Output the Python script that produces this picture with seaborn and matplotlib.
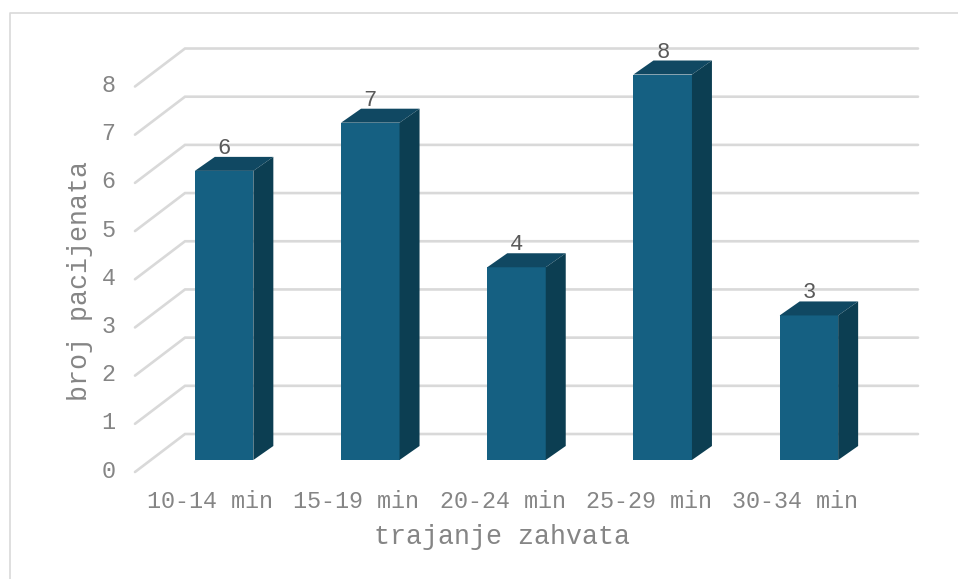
import pandas as pd
import seaborn as sns
import matplotlib.pyplot as plt
from matplotlib.lines import Line2D
from matplotlib.patches import Polygon
from matplotlib.transforms import ScaledTranslation

# values
durations = ['10-14 min', '15-19 min', '20-24 min', '25-29 min', '30-34 min']
patients = [6, 7, 4, 8, 3]
y_ticks = [0, 1, 2, 3, 4, 5, 6, 7, 8]

# colours
front_col = '#156082'
top_col = '#104862'
side_col = '#0c3e52'
grid_col = '#d9d9d9'
text_col = '#858585'

W, H = 958, 579

sns.set_theme(style='white')
plt.rcParams['font.family'] = ['Liberation Mono', 'DejaVu Sans']

fig = plt.figure(figsize=(W / 100, H / 100), dpi=100)
# plot area = front plane of the bars, in pixels
left, right, top, bottom = 151, 882, 74.5, 460
ax = fig.add_axes([left / W, 1 - bottom / H, (right - left) / W, (bottom - top) / H])

df = pd.DataFrame({'trajanje': durations, 'broj': patients})
sns.barplot(data=df, x='trajanje', y='broj', color=front_col, saturation=1, width=0.4, ax=ax,
            zorder=3, linewidth=0)
ax.set_xlim(-0.5, 4.5)
ax.set_ylim(0, 8)
sns.despine(ax=ax, left=True, bottom=True)

# fake 3d depth, in data units
dx, dy = 20 / 146.2, 14 / 48.2
for bar in ax.patches:
    x0 = bar.get_x()
    x1 = x0 + bar.get_width()
    h = bar.get_height()
    ax.add_patch(Polygon([(x0, h), (x1, h), (x1 + dx, h + dy), (x0 + dx, h + dy)],
                         facecolor=top_col, edgecolor='none', zorder=3, clip_on=False))
    ax.add_patch(Polygon([(x1, 0), (x1 + dx, dy), (x1 + dx, h + dy), (x1, h)],
                         facecolor=side_col, edgecolor='none', zorder=3, clip_on=False))

# floor/wall grid lines
x_front, x_back, x_end = -0.5 - 16 / 146.2, -0.5 + 34 / 146.2, 4.5 + 36 / 146.2
y_front, y_back = -12 / 48.2, 26 / 48.2
for v in y_ticks:
    ax.plot([x_front, x_back, x_end], [v + y_front, v + y_back, v + y_back],
            color=grid_col, lw=1.9, zorder=1, clip_on=False, solid_joinstyle='miter')

# value labels above the bars
for i, v in enumerate(patients):
    ax.text(i, v + 22.5 / 48.2, str(v), ha='center', va='center', fontsize=16, color='#595959', zorder=4)

ax.set_yticks(y_ticks)
ax.tick_params(axis='both', length=0, labelsize=16.8, labelcolor=text_col)
ax.tick_params(axis='y', pad=25.5)
ax.tick_params(axis='x', pad=21.5)
for lab in ax.get_xticklabels():
    lab.set_transform(lab.get_transform() + ScaledTranslation(-14 / 100, 0, fig.dpi_scale_trans))
for lab in ax.get_yticklabels():
    lab.set_transform(lab.get_transform() + ScaledTranslation(0, -8.5 / 100, fig.dpi_scale_trans))

ax.set_xlabel('trajanje zahvata', fontsize=19.2, color=text_col, va='center')
ax.set_ylabel('broj pacijenata', fontsize=19.2, color=text_col, va='center')
ax.xaxis.set_label_coords((502 - left) / (right - left), -(537 - bottom) / (bottom - top))
ax.yaxis.set_label_coords((80 - left) / (right - left), (bottom - 281) / (bottom - top))

# chart frame, runs off the picture on the right and bottom
fig.add_artist(Line2D([10 / W, 10 / W, 1], [0, 1 - 13 / H, 1 - 13 / H], color=grid_col, lw=1.2))

fig.savefig('out.png', dpi=100)
